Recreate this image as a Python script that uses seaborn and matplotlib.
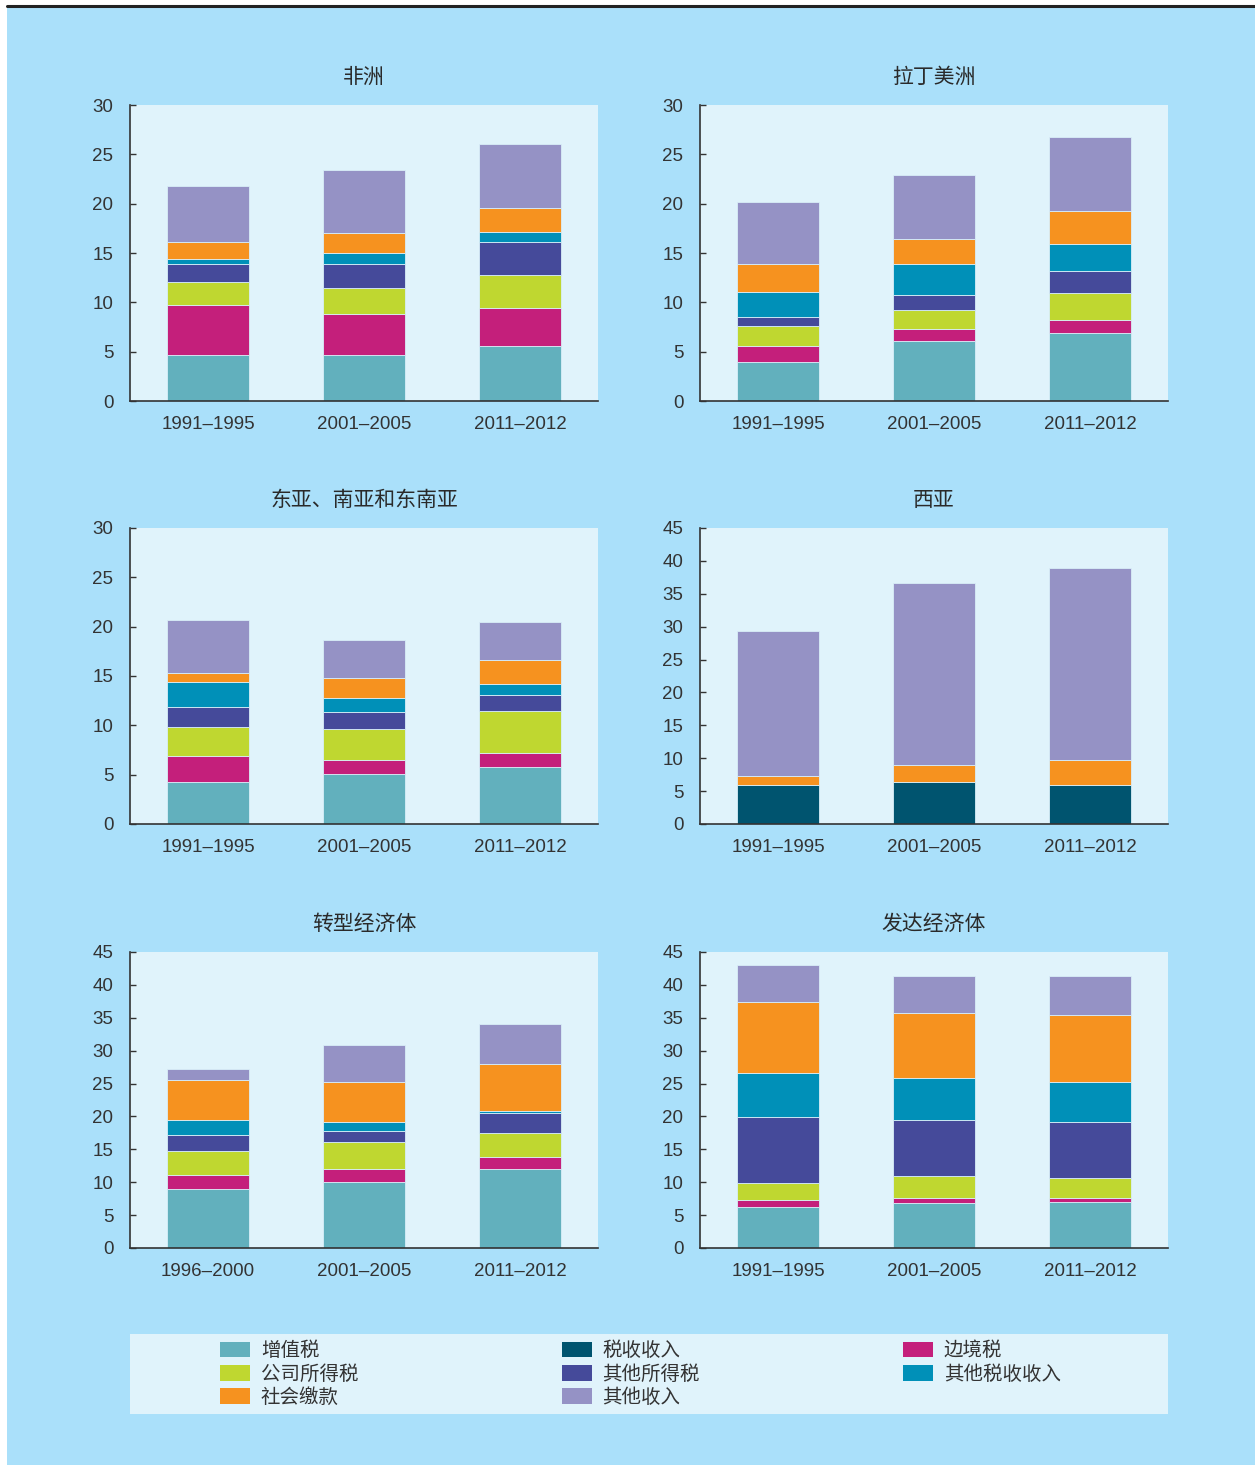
import matplotlib
matplotlib.use("Agg")
import matplotlib.pyplot as plt
from matplotlib.patches import Rectangle, Patch
from matplotlib.lines import Line2D
import numpy as np
import pandas as pd
import seaborn as sns

sns.set_theme(style="white")
plt.rcParams["font.family"] = ["Liberation Sans", "Noto Sans CJK SC", "DejaVu Sans"]

# ---- data (percent of GDP) ----
periods_std = ["1991\u20131995", "2001\u20132005", "2011\u20132012"]
periods_trans = ["1996\u20132000", "2001\u20132005", "2011\u20132012"]

components = ["增值税", "边境税", "公司所得税", "其他所得税", "其他税收收入", "社会缴款", "其他收入"]
components_wa = ["税收收入", "社会缴款", "其他收入"]

africa = {
    "增值税":       [4.65, 4.65, 5.60],
    "边境税":       [5.12, 4.21, 3.84],
    "公司所得税":   [2.26, 2.63, 3.30],
    "其他所得税":   [1.82, 2.36, 3.34],
    "其他税收收入": [0.58, 1.11, 1.08],
    "社会缴款":     [1.68, 2.03, 2.39],
    "其他收入":     [5.69, 6.43, 6.47],
}
latin_america = {
    "增值税":       [3.94, 6.13, 6.88],
    "边境税":       [1.62, 1.12, 1.28],
    "公司所得税":   [2.06, 2.02, 2.76],
    "其他所得税":   [0.91, 1.48, 2.22],
    "其他税收收入": [2.56, 3.10, 2.73],
    "社会缴款":     [2.80, 2.60, 3.34],
    "其他收入":     [6.23, 6.43, 7.55],
}
east_asia = {
    "增值税":       [4.28, 5.05, 5.79],
    "边境税":       [2.59, 1.48, 1.45],
    "公司所得税":   [2.96, 3.10, 4.24],
    "其他所得税":   [1.99, 1.68, 1.62],
    "其他税收收入": [2.59, 1.45, 1.11],
    "社会缴款":     [0.94, 2.02, 2.39],
    "其他收入":     [5.36, 3.87, 3.91],
}
west_asia = {
    "税收收入": [5.86, 6.41, 5.86],
    "社会缴款": [1.41, 2.53, 3.94],
    "其他收入": [22.07, 27.63, 29.19],
}
transition = {
    "增值税":       [9.00, 10.06, 11.98],
    "边境税":       [2.17, 1.92, 1.92],
    "公司所得税":   [3.64, 4.15, 3.64],
    "其他所得税":   [2.43, 1.67, 3.04],
    "其他税收收入": [2.17, 1.36, 0.25],
    "社会缴款":     [6.12, 6.07, 7.18],
    "其他收入":     [1.67, 5.56, 6.06],
}
developed = {
    "增值税":       [6.22, 6.77, 7.03],
    "边境税":       [1.06, 0.81, 0.55],
    "公司所得税":   [2.53, 3.34, 3.04],
    "其他所得税":   [10.16, 8.54, 8.54],
    "其他税收收入": [6.62, 6.32, 6.07],
    "社会缴款":     [10.82, 9.96, 10.21],
    "其他收入":     [5.56, 5.56, 5.86],
}

panels = [
    ("非洲", periods_std, africa, components, 30),
    ("拉丁美洲", periods_std, latin_america, components, 30),
    ("东亚、南亚和东南亚", periods_std, east_asia, components, 30),
    ("西亚", periods_std, west_asia, components_wa, 45),
    ("转型经济体", periods_trans, transition, components, 45),
    ("发达经济体", periods_std, developed, components, 45),
]

palette = {
    "增值税": "#62b0bd",
    "边境税": "#c41f7b",
    "公司所得税": "#bfd730",
    "其他所得税": "#454a9a",
    "其他税收收入": "#0090b8",
    "社会缴款": "#f6921f",
    "其他收入": "#9592c5",
    "税收收入": "#00546f",
}

legend_order = ["增值税", "公司所得税", "社会缴款",
                "税收收入", "其他所得税", "其他收入",
                "边境税", "其他税收收入"]

# ---- figure layout ----
W, H = 1255, 1465
BG = "#aae0fa"
PANEL = "#e0f3fb"
TXT = "#333333"

fig = plt.figure(figsize=(W / 100, H / 100), dpi=100, facecolor=BG)

def fx(px):
    return px / W

def fy(py):
    return 1 - py / H

# white margin on the left and top, with a dark rule along the top
fig.add_artist(Rectangle((0, 0), fx(7), 1, transform=fig.transFigure,
                         facecolor="white", edgecolor="none", zorder=-10))
fig.add_artist(Rectangle((0, fy(6)), 1, 1 - fy(6), transform=fig.transFigure,
                         facecolor="white", edgecolor="none", zorder=-10))
fig.add_artist(Line2D([fx(7), 1], [fy(6), fy(6)], transform=fig.transFigure,
                      color="#222222", linewidth=2.2, zorder=-9))

col_left = [130, 700]
row_top = [105, 528, 952]
ax_w, ax_h = 468, 296

for i, (title, cats, data, comps, ymax) in enumerate(panels):
    r, c = divmod(i, 2)
    left = col_left[c]
    top = row_top[r]
    ax = fig.add_axes([fx(left), fy(top + ax_h), fx(ax_w), ax_h / H])
    ax.set_facecolor(PANEL)

    bottom = np.zeros(len(cats))
    for comp in comps:
        vals = np.array(data[comp])
        df = pd.DataFrame({"period": cats, "value": vals})
        sns.barplot(data=df, x="period", y="value", order=cats, color=palette[comp],
                    saturation=1, width=0.53, bottom=bottom, ax=ax,
                    edgecolor="#d8eef8", linewidth=0.6, errorbar=None)
        bottom = bottom + vals

    ax.set_xlim(-0.5, 2.5)
    ax.set_ylim(0, ymax)
    ax.set_yticks(np.arange(0, ymax + 1, 5))
    ax.set_xlabel("")
    ax.set_ylabel("")
    for s in ("top", "right"):
        ax.spines[s].set_visible(False)
    for s in ("left", "bottom"):
        ax.spines[s].set_color(TXT)
        ax.spines[s].set_linewidth(1.2)
    ax.set_xticks([0.5, 1.5, 2.5], minor=True)
    ax.tick_params(axis="x", which="major", length=0, pad=11, labelsize=13.5, labelcolor=TXT)
    ax.tick_params(axis="x", which="minor", direction="in", length=4, width=1, color=TXT)
    ax.tick_params(axis="y", which="major", direction="in", length=4, width=1, color=TXT,
                   pad=12, labelsize=13.5, labelcolor=TXT, left=True)
    ax.set_title(title, fontsize=15, color="#2a2a2a", pad=16,
                 family=["Noto Sans CJK SC", "DejaVu Sans"], fontweight="normal")

# ---- legend panel ----
fig.add_artist(Rectangle((fx(130), fy(1414)), fx(1168 - 130), (1414 - 1334) / H,
                         transform=fig.transFigure, facecolor=PANEL,
                         edgecolor="none", zorder=-5))
handles = [Patch(facecolor=palette[k], edgecolor="none") for k in legend_order]
leg = fig.legend(handles, legend_order, ncol=3, mode="expand",
                 bbox_to_anchor=(fx(220), fy(1410), fx(1061 - 220), (1410 - 1338) / H),
                 bbox_transform=fig.transFigure, loc="center", frameon=False,
                 borderpad=0, borderaxespad=0, handlelength=1.55, handleheight=0.85,
                 handletextpad=0.55, labelspacing=0.12,
                 prop={"family": ["Noto Sans CJK SC", "DejaVu Sans"], "size": 14})
for t in leg.get_texts():
    t.set_color(TXT)

fig.savefig("out.png", dpi=100, facecolor=fig.get_facecolor())
